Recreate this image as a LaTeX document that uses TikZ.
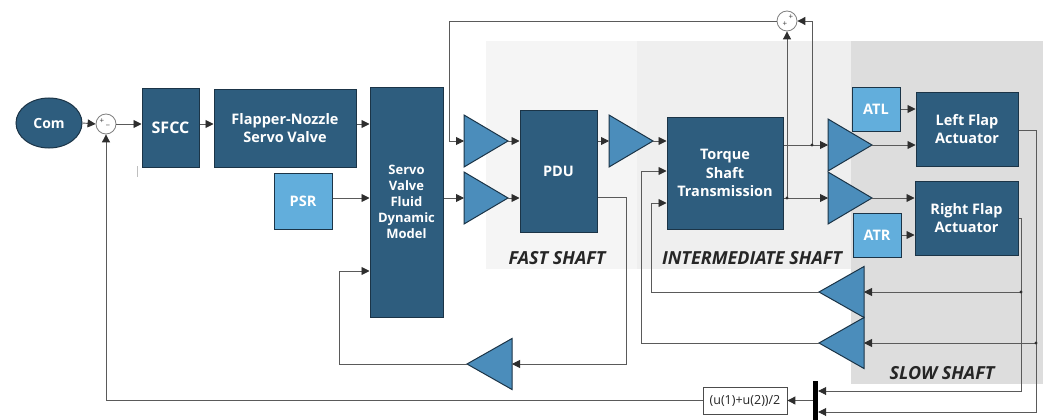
\documentclass[tikz,border=0pt]{standalone}
\usepackage{fontspec}
\setmainfont{Open Sans}
\usetikzlibrary{shapes.geometric,arrows.meta}
\definecolor{dbox}{HTML}{2E5D7E}
\definecolor{dborder}{HTML}{1B3447}
\definecolor{lbox}{HTML}{62AEDC}
\definecolor{ampc}{HTML}{4B8DBB}
\definecolor{wirec}{HTML}{5A5A5A}
\definecolor{tipc}{HTML}{2E2E2E}
\definecolor{fastbg}{HTML}{F5F5F5}
\definecolor{midbg}{HTML}{EFEFEF}
\definecolor{slowbg}{HTML}{DDDDDD}
\tikzset{
  dark/.style={draw=dborder, fill=dbox, text=white, font=\bfseries\fontsize{14.5}{18.5}\selectfont, align=center, inner sep=0pt, line width=1pt},
  light/.style={draw=dborder, fill=lbox, text=white, font=\bfseries\fontsize{14.5}{18}\selectfont, align=center, inner sep=0pt, line width=1pt},
  wire/.style={draw=wirec, line width=0.9pt},
  arr/.style={wire, -{Triangle[length=8pt,width=8pt,color=tipc]}},
  ampst/.style={draw=dborder, fill=ampc, line width=1pt, line join=miter},
  sumst/.style={circle, draw=gray, fill=white, minimum size=20pt, inner sep=0pt, line width=0.8pt},
  signst/.style={font=\fontsize{8}{8}\selectfont, text=black!75, inner sep=0pt},
  shaftlbl/.style={font=\bfseries\itshape\fontsize{18}{20}\selectfont, text=black!85, inner sep=0pt},
  dot/.style={fill=tipc},
}
\newcommand\myampR[3]{%
  \draw[ampst] (#2,#3-26) -- (#2+44,#3) -- (#2,#3+26) -- cycle;
  \coordinate (#1-in) at (#2,#3);
  \coordinate (#1-out) at (#2+44,#3);}
\newcommand\myampL[3]{%
  \draw[ampst] (#2,#3-25.5) -- (#2-45,#3) -- (#2,#3+25.5) -- cycle;
  \coordinate (#1-in) at (#2,#3);
  \coordinate (#1-out) at (#2-45,#3);}
\begin{document}
\begin{tikzpicture}[x=1pt,y=-1pt]
\useasboundingbox (0,0) rectangle (1044,420);
\fill[white] (0,0) rectangle (1044,420);
% shaft regions
\fill[fastbg] (486,41) rectangle (637,269);
\fill[midbg] (637,41) rectangle (851,269);
\fill[slowbg] (851,41) rectangle (1043,384);
\node[shaftlbl] (fastl) at (557,258) {FAST SHAFT};
\node[shaftlbl] (midl) at (752,258) {INTERMEDIATE SHAFT};
\node[shaftlbl] (slowl) at (942,373) {SLOW SHAFT};
% artifact tick
\draw[gray!50, line width=0.8pt] (137,166) -- (137,177);
% nodes
\node[ellipse, draw=dborder, fill=dbox, text=white, font=\bfseries\fontsize{14}{16}\selectfont, minimum width=66pt, minimum height=50pt, inner sep=0pt, line width=1pt] (com) at (49,123) {Com};
\node[sumst] (s1) at (106,124) {};
\node[signst] (s1p) at (102,121) {+};
\node[signst] (s1m) at (108,125) {\_};
\node[dark, font=\bfseries\fontsize{16}{18}\selectfont, minimum width=57pt, minimum height=79pt] (sfcc) at (170.5,127.5) {SFCC};
\node[dark, minimum width=142pt, minimum height=78pt] (fn) at (285,128) {Flapper-Nozzle\\Servo Valve};
\node[dark, font=\bfseries\fontsize{13}{16}\selectfont, minimum width=73pt, minimum height=230pt] (svf) at (406.5,202) {Servo\\Valve\\Fluid\\Dynamic\\Model};
\node[light, minimum width=58pt, minimum height=56pt] (psr) at (303,201) {PSR};
\node[dark, minimum width=77pt, minimum height=122pt] (pdu) at (558.5,171) {PDU};
\node[dark, minimum width=116pt, minimum height=112pt] (tst) at (725,173) {Torque\\Shaft\\Transmission};
\node[light, minimum width=48pt, minimum height=44pt] (atl) at (876,109) {ATL};
\node[dark, minimum width=102pt, minimum height=74pt] (lfa) at (967,129) {Left Flap\\Actuator};
\node[dark, minimum width=103pt, minimum height=74pt] (rfa) at (966.5,218) {Right Flap\\Actuator};
\node[light, minimum width=48pt, minimum height=44pt] (atr) at (877,235) {ATR};
\node[sumst] (s2) at (787,21) {};
\node[signst] (s2a) at (791,17) {+};
\node[signst] (s2b) at (785,24) {+};
\node[draw=black!70, fill=white, line width=0.8pt, minimum width=84pt, minimum height=27pt, inner sep=0pt, font=\fontsize{12.5}{15}\selectfont, text=black!85] (gain) at (745,400.5) {(u(1)+u(2))/2};
\node[fill=black, minimum width=5pt, minimum height=40pt, inner sep=0pt] (mux) at (815.5,400.5) {};
% amplifiers
\myampR{a1}{464}{141}
\myampR{a2}{464}{198}
\myampR{a3}{609}{141}
\myampR{a4}{828}{145}
\myampR{a5}{828}{198}
\myampL{a6}{864}{292}
\myampL{a7}{864}{343}
\myampL{a8}{512}{364}
% helper coordinates
\coordinate (j1) at (812,145);
\coordinate (j2) at (787,198);
\coordinate (c1) at (449,21);
\coordinate (l1) at (1036,130);
\coordinate (l2) at (1036,343);
\coordinate (l3) at (1036,412);
\coordinate (r1) at (1021,218);
\coordinate (r2) at (1021,292);
\coordinate (r3) at (1021,391);
\coordinate (f1) at (651,292);
\coordinate (f1b) at (651,203);
\coordinate (f2) at (641,343);
\coordinate (f2b) at (641,171);
\coordinate (g1) at (106,400.5);
\coordinate (p1) at (626,197);
\coordinate (p2) at (626,364);
\coordinate (q1) at (339,364);
\coordinate (q2) at (339,271);
% connectors
\draw[arr] (com.east) -- (s1.west);
\draw[arr] (s1.east) -- (sfcc.west |- s1.east);
\draw[arr] (sfcc.east |- s1.east) -- (fn.west |- s1.east);
\draw[arr] (fn.east |- s1.east) -- (svf.west |- s1.east);
\draw[arr] (psr.east |- a2-in) -- (svf.west |- a2-in);
\draw[arr] (svf.east |- a2-in) -- (a2-in);
\draw[arr] (a1-out) -- (pdu.west |- a1-out);
\draw[arr] (a2-out) -- (pdu.west |- a2-out);
\draw[arr] (pdu.east |- a3-in) -- (a3-in);
\draw[arr] (a3-out) -- (tst.west |- a3-out);
\draw[arr] (tst.east |- a4-in) -- (a4-in);
\draw[arr] (tst.east |- a5-in) -- (a5-in);
\draw[arr] (j1) |- (s2.east);
\draw[arr] (j2) -- (s2.south);
\draw[arr] (s2.west) -- (c1) |- (a1-in);
\draw[arr] (a4-out) -- (lfa.west |- a4-out);
\draw[arr] (a5-out) -- (rfa.west |- a5-out);
\draw[arr] (atl.east) -- (lfa.west |- atl.east);
\draw[arr] (atr.east) -- (rfa.west |- atr.east);
\draw[arr] (lfa.east |- l1) -- (l1) -- (l3) -- (mux.east |- l3);
\draw[arr] (l2) -- (a7-in);
\draw[arr] (rfa.east |- r1) -- (r1) -- (r3) -- (mux.east |- r3);
\draw[arr] (r2) -- (a6-in);
\draw[arr] (a6-out) -- (f1) -- (f1b) -- (tst.west |- f1b);
\draw[arr] (a7-out) -- (f2) -- (f2b) -- (tst.west |- f2b);
\draw[arr] (mux.west |- gain.east) -- (gain.east);
\draw[arr] (gain.west) -- (g1) -- (s1.south);
\draw[arr] (pdu.east |- p1) -- (p1) -- (p2) -- (a8-in);
\draw[arr] (a8-out) -- (q1) -- (q2) -- (svf.west |- q2);
% junction dots
\fill[dot] (j1) circle (1.6pt);
\fill[dot] (j2) circle (1.6pt);
\fill[dot] (l2) circle (1.6pt);
\fill[dot] (r2) circle (1.6pt);
\end{tikzpicture}
\end{document}
